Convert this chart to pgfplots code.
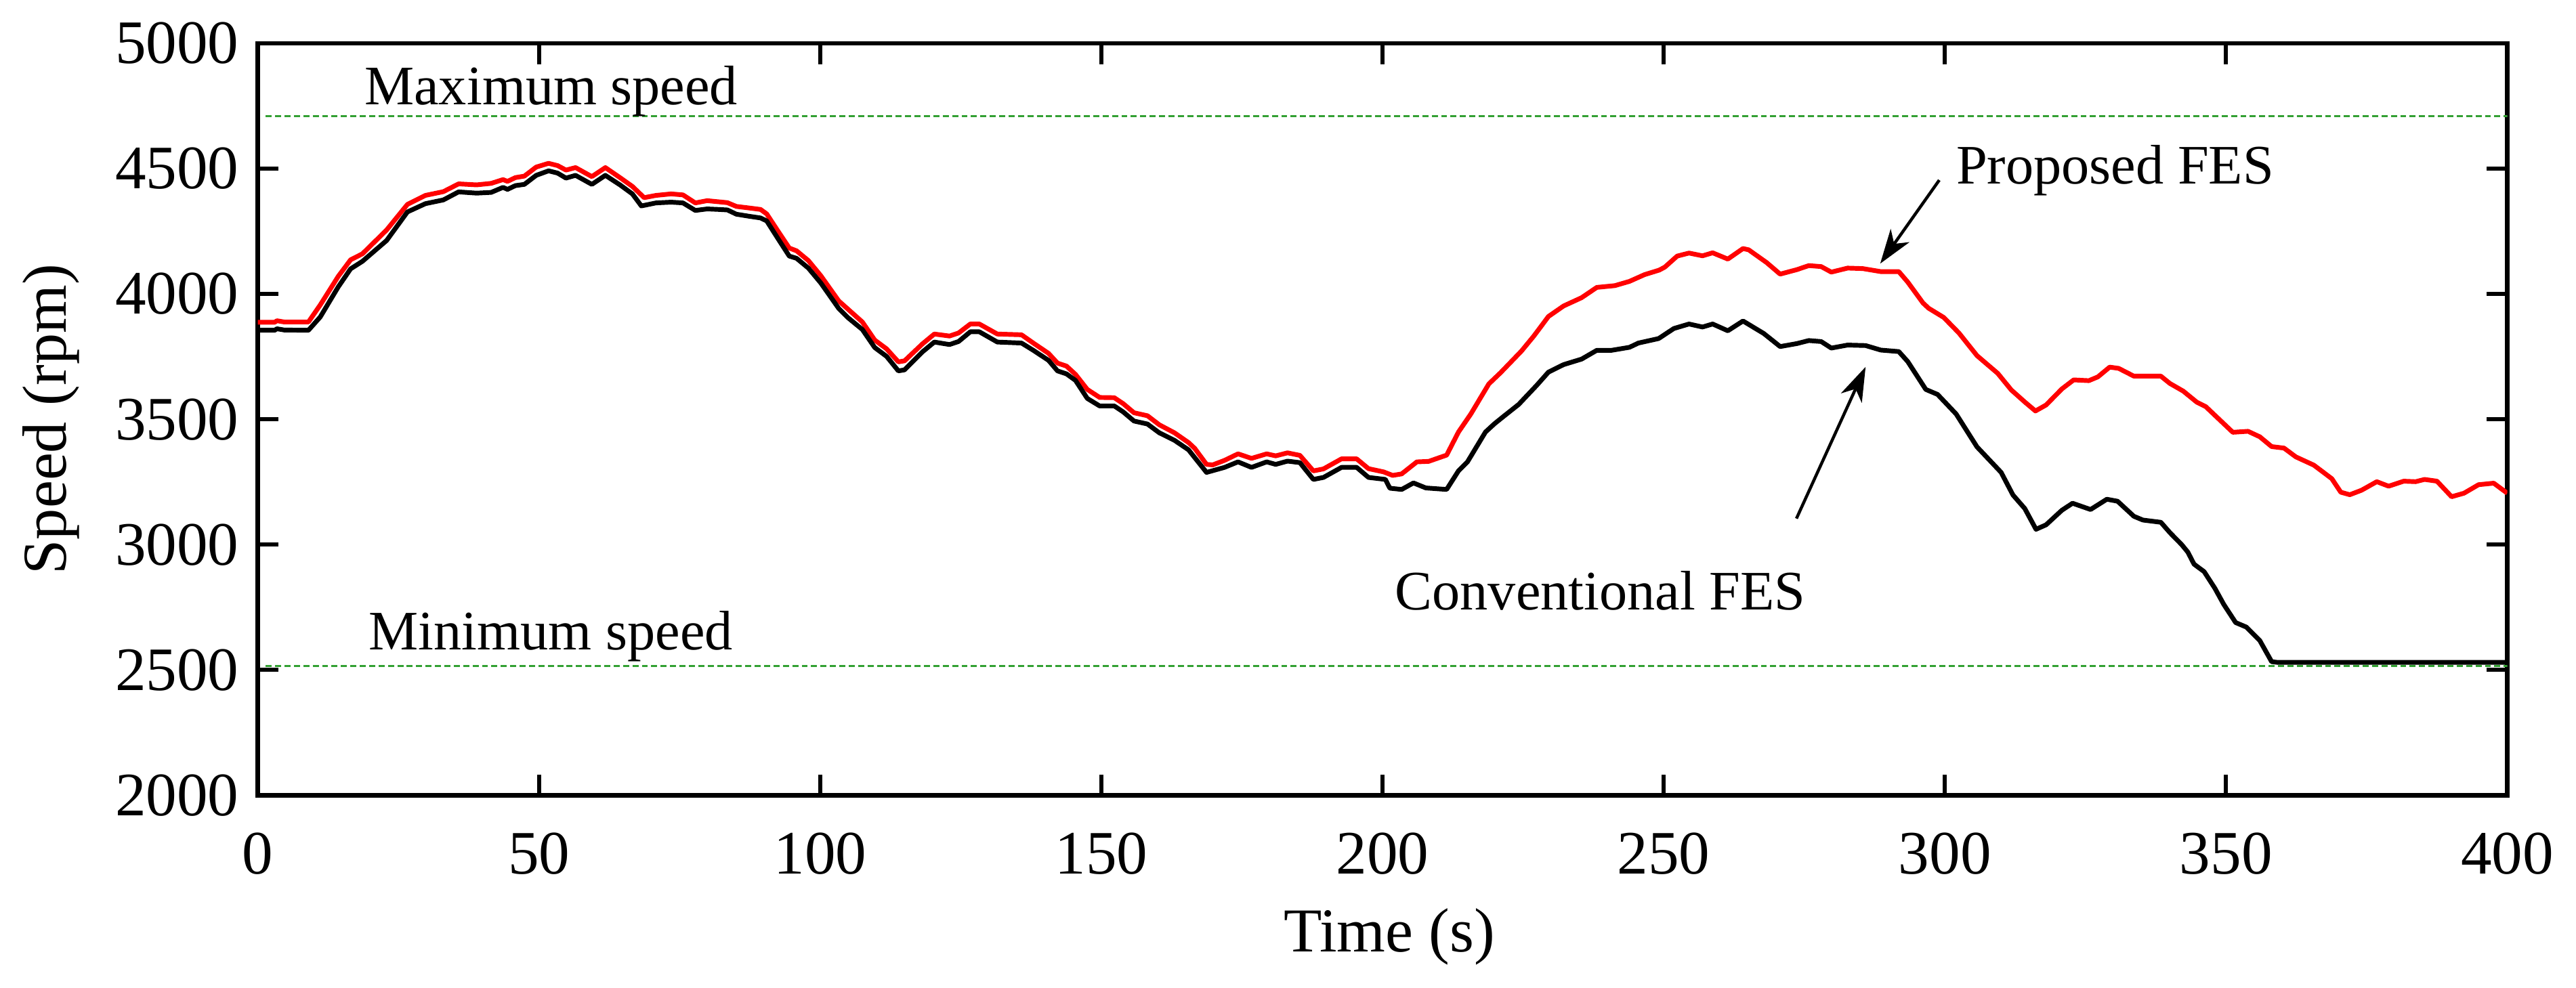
\documentclass[border=0pt]{standalone}
\usepackage{fontspec}
\setmainfont{Liberation Serif}
\usepackage{pgfplots}
\pgfplotsset{compat=1.18}
\usetikzlibrary{arrows.meta,calc}
\definecolor{limgreen}{RGB}{50,160,50}

\pgfplotstableread{
t v
0 3887
3 3887
3.4 3893
4.7 3888
9 3888
11.1 3956
14.3 4070
16.5 4136
18.6 4160
22.9 4255
26.6 4357
29.8 4393
33 4408
35.7 4439
38.9 4435
41.5 4441
43.6 4456
44.4 4449
45.8 4464
47.4 4470
49.5 4506
51.7 4521
53.3 4512
54.8 4494
56.5 4504
59.4 4468
61.8 4504
64.4 4464
66.6 4429
68.7 4384
70.8 4393
73.5 4399
75.6 4395
77.8 4363
79.9 4372
83.5 4364
85.1 4349
87.3 4343
89.4 4337
90.5 4319
92.6 4247
94.5 4183
95.8 4172
97.9 4133
100.1 4073
103.3 3972
104.9 3940
107.5 3888
109.7 3816
111.8 3781
113.9 3729
115.0 3733
118.2 3801
120.3 3840
123.0 3832
124.6 3844
126.7 3880
128.3 3880
131.5 3840
135.8 3837
137.9 3804
140.6 3763
142.2 3724
143.8 3712
145.4 3679
147.5 3619
149.7 3587
152.3 3586
153.9 3562
155.8 3526
158.2 3514
160.3 3478
163.0 3446
165.5 3407
166.6 3384
168.7 3320
169.8 3318
171.9 3336
174.3 3362
176.7 3344
179.4 3362
181.0 3354
183.1 3366
185.3 3356
187.7 3294
189.5 3302
192.7 3342
195.4 3342
197.5 3303
200.2 3290
201.8 3276
203.4 3282
206.1 3330
208.2 3332
211.4 3357
213.5 3449
215.7 3521
218.9 3641
221.0 3686
224.7 3772
226.9 3832
229.5 3910
232.2 3952
235.4 3985
238.1 4026
241.3 4033
243.9 4050
246.6 4077
249.2 4095
250.2 4107
252.4 4151
254.5 4163
256.9 4152
258.7 4164
261.4 4139
264.1 4181
265.1 4176
268.3 4125
270.7 4079
273.7 4097
275.8 4113
278.0 4109
279.8 4087
282.7 4103
285.4 4101
288.6 4089
291.8 4089
293.4 4047
296.1 3964
297.1 3943
299.8 3906
302.5 3844
305.7 3754
309.4 3683
311.8 3617
314.2 3569
316.1 3533
318.0 3557
320.8 3621
322.9 3657
325.6 3654
327.2 3669
329.3 3708
330.9 3703
333.6 3672
338.4 3672
340.0 3643
342.4 3612
344.8 3568
346.4 3550
351.2 3448
353.9 3452
356.0 3430
358.1 3391
360.3 3385
362.4 3350
365.6 3317
368.8 3263
370.4 3209
372.0 3199
374.1 3217
376.8 3251
378.9 3233
381.6 3253
383.7 3251
385.3 3260
387.5 3253
390.1 3191
392.3 3205
394.9 3239
397.6 3245
400 3205
}\proposed

\pgfplotstableread{
t v
0 3855
3 3855
3.4 3861
4.7 3856
9 3855
11.1 3908
14.3 4028
16.5 4100
18.6 4130
22.9 4213
26.6 4327
29.8 4360
33 4375
35.7 4407
38.9 4402
41.5 4405
43.6 4425
44.4 4417
45.8 4432
47.4 4437
49.5 4473
51.7 4491
53.3 4482
54.8 4462
56.5 4473
59.4 4437
61.8 4473
64.4 4435
66.6 4399
68.2 4351
70.8 4363
73.5 4366
75.6 4363
77.8 4333
79.9 4339
81.9 4337
83.5 4335
85.1 4318
87.3 4310
89.4 4303
90.5 4291
92.6 4217
94.5 4151
95.8 4142
97.9 4103
100.1 4044
103.3 3942
104.9 3906
107.5 3858
109.7 3786
111.8 3751
113.9 3693
115.0 3697
118.2 3769
120.3 3808
123.0 3798
124.6 3810
126.7 3849
128.3 3849
131.5 3808
135.8 3804
137.9 3775
140.6 3735
142.2 3693
143.8 3681
145.4 3655
147.5 3583
149.7 3553
152.3 3553
153.9 3529
155.8 3493
158.2 3481
160.3 3446
163.0 3416
165.5 3378
168.7 3288
171.9 3308
174.3 3330
176.7 3308
179.4 3330
181.0 3320
183.1 3333
185.3 3327
187.7 3260
189.5 3268
192.7 3308
195.4 3308
197.5 3268
200.5 3260
201.3 3225
203.4 3220
205.5 3246
207.7 3226
211.4 3220
213.5 3294
215.1 3330
218.3 3449
219.9 3482
221.5 3511
224.2 3559
227.4 3635
229.5 3688
232.2 3718
235.4 3740
238.1 3775
240.7 3775
243.9 3787
245.5 3804
249.1 3822
251.8 3862
254.5 3880
256.9 3868
258.7 3880
261.4 3853
264.1 3892
267.8 3842
270.7 3790
273.7 3802
275.8 3814
278.0 3810
279.8 3784
282.7 3796
285.9 3794
288.6 3776
291.8 3770
293.4 3730
296.6 3619
298.7 3599
302.0 3521
305.7 3390
310.0 3288
312.1 3198
314.2 3144
316.2 3061
318.0 3079
320.8 3137
322.7 3165
325.9 3140
328.8 3181
330.7 3173
333.6 3113
335.2 3098
338.4 3089
340.0 3048
342.1 3000
343.2 2970
344.3 2922
346.1 2892
348.0 2826
349.6 2761
351.7 2689
353.6 2671
356.0 2617
358.1 2533
359.2 2530
400 2530
}\conventional

\begin{document}
\begin{tikzpicture}
\begin{axis}[name=ax, scale only axis, width=334.9pt, height=112pt,
  xmin=0, xmax=400, ymin=2000, ymax=5000,
  xtick={0,50,...,400}, ytick={2000,2500,...,5000},
  minor tick num=0,
  tick align=inside, major tick length=3.1pt,
  axis line style={line width=0.65pt},
  tick style={black, line width=0.6pt},
  /pgf/number format/assume math mode=true,
  /pgf/number format/1000 sep={},
  tick label style={font=\fontsize{9.2}{11}\selectfont},
  xticklabel shift=2.1pt, yticklabel shift=-0.7pt,
  label style={font=\fontsize{9.3}{11}\selectfont},
  xlabel={Time (s)}, ylabel={Speed (rpm)},
  xlabel style={at={([yshift=-23.3pt,xshift=1pt]rel axis cs:0.5,0)}, anchor=base},
  ylabel style={at={([xshift=-28.6pt]rel axis cs:0,0.5)}, anchor=base},
]
\addplot[limgreen, line width=0.3pt, dash pattern=on 0.9pt off 0.5pt] coordinates {(1.4,4710) (400,4710)};
\addplot[limgreen, line width=0.3pt, dash pattern=on 0.9pt off 0.5pt] coordinates {(1.4,2517) (400,2517)};
\addplot[red, line width=0.7pt, line join=round] table[x=t,y=v] {\proposed};
\addplot[black, line width=0.7pt, line join=round] table[x=t,y=v] {\conventional};

\node[anchor=base west, inner sep=0pt, font=\fontsize{8.3}{10}\selectfont] at (axis cs:18.75,4754) {Maximum speed};
\node[anchor=base west, inner sep=0pt, font=\fontsize{8.3}{10}\selectfont] at (axis cs:19.5,2581) {Minimum speed};
\node[anchor=base west, inner sep=0pt, font=\fontsize{8.3}{10}\selectfont] at (axis cs:301.8,4439) {Proposed FES};
\node[anchor=base west, inner sep=0pt, font=\fontsize{8.3}{10}\selectfont] at (axis cs:202.0,2739) {Conventional FES};
\draw[line width=0.45pt, -{Stealth[length=5.1pt,width=3.4pt,inset=1.5pt]}] (axis cs:299.0,4454) -- (axis cs:288.5,4121);
\draw[line width=0.45pt, -{Stealth[length=5.1pt,width=3.4pt,inset=1.5pt]}] (axis cs:273.6,3104) -- (axis cs:285.9,3709);
\end{axis}
\path ($(ax.south west)+(-36.4pt,-26.1pt)$) rectangle ($(ax.north east)+(9pt,5.5pt)$);
\end{tikzpicture}
\end{document}
